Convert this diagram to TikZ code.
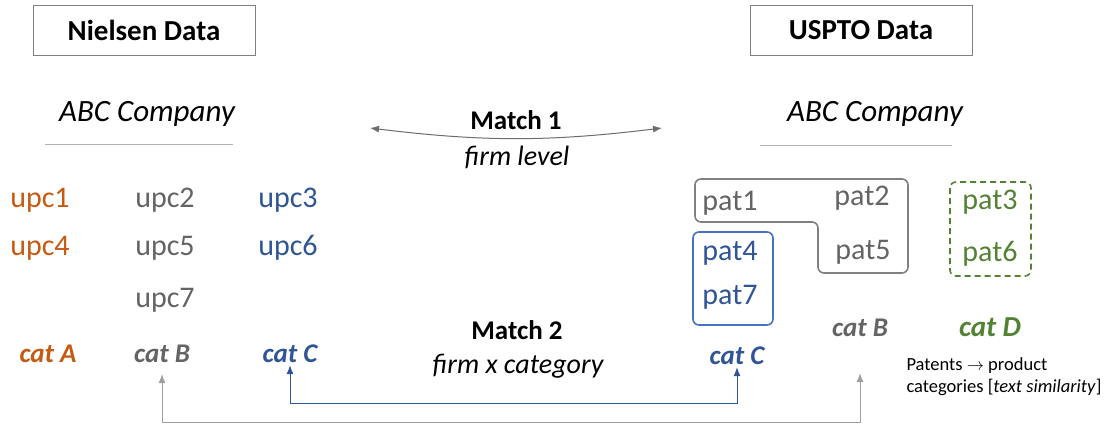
\documentclass[tikz,border=0pt]{standalone}
\usepackage{fontspec}
\setmainfont{Carlito}
\usepackage{xcolor}
\usetikzlibrary{arrows.meta, positioning, calc}

\definecolor{orangeT}{RGB}{197,90,17}
\definecolor{grayT}{RGB}{100,100,100}
\definecolor{blueT}{RGB}{47,85,151}
\definecolor{greenT}{RGB}{84,130,53}
\definecolor{blueBox}{RGB}{68,114,196}
\definecolor{grayBox}{RGB}{128,128,128}
\definecolor{greenBox}{RGB}{84,130,53}

\begin{document}
\begin{tikzpicture}[
    x=1pt, y=-1pt,
    title/.style={rectangle, draw=grayBox, line width=1pt, minimum width=222pt, minimum height=50pt, font=\fontsize{29}{31}\selectfont\bfseries},
    firm/.style={font=\fontsize{31}{33}\selectfont\itshape},
    code/.style={font=\fontsize{30}{32}\selectfont, inner sep=2pt},
    cat/.style={font=\fontsize{27}{29}\selectfont\bfseries\itshape, inner sep=2pt},
    match/.style={font=\fontsize{27}{29}\selectfont\bfseries},
    level/.style={font=\fontsize{28}{30}\selectfont\itshape},
    link/.style={{Latex[length=9pt,width=7pt]}-{Latex[length=9pt,width=7pt]}, line width=1pt}
]
\useasboundingbox (0,0) rectangle (1112,432);

% Headers
\node[title] (nielsen) at (144,30) {Nielsen Data};
\node[title] (uspto) at (861,30) {USPTO Data};
\node[firm] (firmL) at (147,114) {ABC Company};
\node[firm] (firmR) at (875,114) {ABC Company};
\draw[gray!60, line width=1pt] (45,144) -- (233,144);
\draw[gray!60, line width=1pt] (760,145) -- (952,145);

% Match labels
\node[match] (match1) at (516,120) {Match 1};
\node[level] (level1) at (517,157) {firm level};
\node[match] (match2) at (517,330) {Match 2};
\node[level] (level2) at (518,366) {firm x category};

% Nielsen products
\node[code, orangeT] (upc1) at (40,200) {upc1};
\node[code, orangeT] (upc4) at (40,248) {upc4};
\node[code, grayT] (upc2) at (165,200) {upc2};
\node[code, grayT] (upc5) at (165,248) {upc5};
\node[code, grayT] (upc7) at (165,300) {upc7};
\node[code, blueT] (upc3) at (288,200) {upc3};
\node[code, blueT] (upc6) at (288,248) {upc6};

\node[cat, orangeT] (catA) at (48,354) {cat A};
\node[cat, grayT] (catBl) at (162,354) {cat B};
\node[cat, blueT] (catCl) at (290,354) {cat C};

% USPTO patents
\node[code, grayT] (pat1) at (730,203) {pat1};
\node[code, grayT] (pat2) at (862,198) {pat2};
\node[code, grayT] (pat5) at (863,252) {pat5};
\node[code, blueT] (pat4) at (730,253) {pat4};
\node[code, blueT] (pat7) at (730,297) {pat7};
\node[code, greenT] (pat3) at (990,202) {pat3};
\node[code, greenT] (pat6) at (990,254) {pat6};

\draw[grayBox, line width=1.6pt, rounded corners=6pt]
    (695,179) -- (908,179) -- (908,273) -- (818,273) -- (818,222) -- (695,222) -- cycle;
\draw[blueBox, line width=1.6pt, rounded corners=6pt] (693,232) rectangle (773,325);
\draw[greenBox, line width=1.6pt, dash pattern=on 6pt off 4pt, rounded corners=6pt] (950,182) rectangle (1031,276);

\node[cat, grayT] (catBr) at (860,328) {cat B};
\node[cat, greenT, font=\fontsize{29}{31}\selectfont\bfseries\itshape] (catD) at (990,327) {cat D};
\node[cat, blueT] (catCr) at (737,356) {cat C};

\node[anchor=west, align=left, font=\fontsize{18.5}{22}\selectfont] (note) at (903,377)
    {Patents $\rightarrow$ product\\categories [\textit{text similarity}]};

% Connectors
\coordinate (m1l) at (370,128);
\coordinate (m1r) at (662,128);
\draw[link, gray!85!black] (m1l) to[bend right=7] (m1r);
\draw[link, blueT] (catCl.south) -- ++(0,38) -| (catCr.south);
\draw[link, gray!75, shorten <=9pt, shorten >=34pt] (catBl.south) -- ++(0,57) -| (catBr.south);

\end{tikzpicture}
\end{document}
